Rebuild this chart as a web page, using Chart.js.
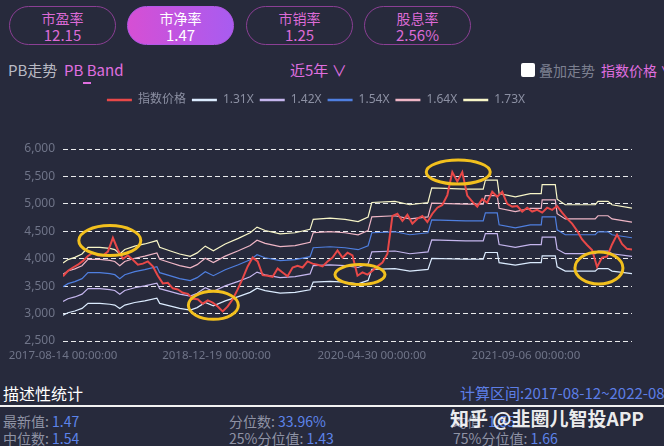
<!DOCTYPE html>
<html>
<head>
<meta charset="utf-8">
<script src="https://cdn.jsdelivr.net/npm/chart.js@4.4.1/dist/chart.umd.min.js"></script>
<style>
  html, body { margin: 0; padding: 0; background: #272a3c; }
  #page { position: relative; width: 664px; height: 446px; overflow: hidden; background: #272a3c;
    font-family: "Noto Sans CJK SC", "Noto Sans", sans-serif; }
  .tab { position: absolute; top: 6px; width: 105px; height: 37px; border: 1px solid #8b3f94;
    border-radius: 20px; color: #dc6ad6; text-align: center; }
  .tab .t { font-size: 14px; line-height: 16px; margin-top: 3px; }
  .tab .v { font-size: 15px; line-height: 17px; }
  .tab.on { background: linear-gradient(90deg, #d64fd4, #a85cf0); border-color: #b358e6; color: #fff; }
  .txt { position: absolute; white-space: nowrap; line-height: 1; }
  #chartBox { position: absolute; left: 0; top: 88px; width: 664px; height: 275px; }
  .lab { color: #8f93a5; }
  .val { color: #5d84ea; }
</style>
</head>
<body>
<div id="page">
  <div class="tab" style="left:9px"><div class="t">市盈率</div><div class="v">12.15</div></div>
  <div class="tab on" style="left:127px"><div class="t">市净率</div><div class="v">1.47</div></div>
  <div class="tab" style="left:246px"><div class="t">市销率</div><div class="v">1.25</div></div>
  <div class="tab" style="left:364px"><div class="t">股息率</div><div class="v">2.56%</div></div>

  <div class="txt" style="left:8px;top:62px;font-size:15px;color:#b9bac4">PB走势</div>
  <div class="txt" style="left:64px;top:62px;font-size:15px;color:#e06fe0">PB Band</div>
  <div style="position:absolute;left:83px;top:82px;width:8px;height:2px;background:#e06fe0"></div>
  <div class="txt" style="left:290px;top:62px;font-size:15px;color:#e06fe0">近5年 ∨</div>
  <div style="position:absolute;left:521px;top:63px;width:14px;height:14px;background:#fff;border-radius:2px"></div>
  <div class="txt" style="left:539px;top:63px;font-size:14px;color:#7d8091">叠加走势</div>
  <div class="txt" style="left:601px;top:63px;font-size:14px;color:#e06fe0">指数价格 ∨</div>

  <div id="chartBox"><canvas id="pb-band"></canvas></div>

  <div class="txt" style="left:3px;top:385px;font-size:16px;color:#fff">描述性统计</div>
  <div class="txt" style="left:460px;top:385px;font-size:15px;color:#5d7ee6">计算区间:2017-08-12~2022-08-12</div>
  <div style="position:absolute;left:0;top:405px;width:664px;height:2px;background:#f2f2f2"></div>

  <div class="txt" style="left:3px;top:414px;font-size:14px"><span class="lab">最新值: </span><span class="val">1.47</span></div>
  <div class="txt" style="left:229px;top:414px;font-size:14px"><span class="lab">分位数: </span><span class="val">33.96%</span></div>
  <div class="txt" style="left:453px;top:414px;font-size:14px"><span class="lab">均值: </span><span class="val">1.55</span></div>
  <div class="txt" style="left:3px;top:431px;font-size:14px"><span class="lab">中位数: </span><span class="val">1.54</span></div>
  <div class="txt" style="left:229px;top:431px;font-size:14px"><span class="lab">25%分位值: </span><span class="val">1.43</span></div>
  <div class="txt" style="left:453px;top:431px;font-size:14px"><span class="lab">75%分位值: </span><span class="val">1.66</span></div>
  <div class="txt" style="left:450px;top:408px;font-size:19px;font-weight:bold;color:rgba(255,255,255,0.92)">知乎 @韭圈儿智投APP</div>
</div>

<script>
// x axis is in days from the first date
const START_DATE = '2017-08-14';
const xTickLabels = ['2017-08-14 00:00:00', '2018-12-19 00:00:00', '2020-04-30 00:00:00', '2021-09-06 00:00:00'];
const lastDay = 1824;              // 2022-08-12
const priceStep = 16;              // one price reading every 16 days

const seriesNames = ['指数价格', '1.31X', '1.42X', '1.54X', '1.64X', '1.73X'];

const price = [
  3680, 3780, 3840, 3890, 3960, 4050, 4110, 4060, 4060, 4130,
  4380, 4160, 4000, 4060, 3980, 3890, 3910, 3950, 3860, 3690,
  3550, 3560, 3460, 3440, 3380, 3360, 3270, 3260, 3180, 3240,
  3200, 3130, 3040, 3130, 3260, 3440, 3640, 3860, 4020, 3950,
  3700, 3690, 3670, 3820, 3750, 3680, 3840, 3870, 3840, 3950,
  3910, 3890, 3860, 3950, 4020, 4150, 4020, 4110, 4060, 3690,
  3750, 3710, 3780, 3860, 3930, 4090, 4780, 4820, 4690, 4800,
  4640, 4730, 4780, 4670, 4820, 4930, 4980, 5160, 5580, 5410,
  5580, 5150, 5040, 4950, 5090, 5020, 5220, 5130, 5220, 5000,
  4950, 4960, 4860, 4930, 4860, 4890, 4840, 4930, 4890, 4960,
  4840, 4730, 4640, 4510, 4350, 4250, 4160, 3850, 4020, 4040,
  4260, 4440, 4270, 4180, 4170
];

// band values at the days where they change course
const bandDays = [
  0, 16, 38, 61, 80, 118, 150, 166, 182, 198,
  230, 262, 301, 310, 342, 374, 408, 430, 456, 482,
  520, 562, 600, 622, 648, 696, 744, 792, 802, 856,
  904, 946, 978, 990, 1064, 1112, 1170, 1182, 1290, 1347,
  1354, 1392, 1398, 1450, 1498, 1533, 1536, 1578, 1584, 1610,
  1706, 1715, 1747, 1760, 1824
];
const band131 = [
  2970, 3016, 3047, 3094, 3186, 3186, 3170, 3155, 3094, 3155,
  3202, 3232, 3279, 3186, 3140, 3094, 3062, 3109, 3202, 3140,
  3232, 3310, 3387, 3464, 3418, 3372, 3387, 3434, 3573, 3588,
  3573, 3542, 3604, 3805, 3820, 3774, 3805, 4006, 3990, 3990,
  4113, 4113, 3928, 3882, 3928, 3928, 4052, 4052, 3851, 3774,
  3774, 3820, 3820, 3774, 3727
];
const band142 = [
  3219, 3270, 3303, 3354, 3454, 3454, 3437, 3420, 3354, 3420,
  3471, 3504, 3555, 3454, 3404, 3354, 3320, 3370, 3471, 3404,
  3504, 3588, 3672, 3756, 3705, 3655, 3672, 3723, 3873, 3889,
  3873, 3840, 3907, 4125, 4141, 4091, 4125, 4342, 4326, 4326,
  4459, 4459, 4258, 4208, 4258, 4258, 4393, 4393, 4174, 4091,
  4091, 4141, 4141, 4091, 4041
];
const band154 = [
  3491, 3546, 3582, 3637, 3746, 3746, 3727, 3709, 3637, 3709,
  3764, 3800, 3855, 3746, 3691, 3637, 3600, 3655, 3764, 3691,
  3800, 3891, 3982, 4073, 4018, 3964, 3982, 4037, 4200, 4218,
  4200, 4164, 4237, 4473, 4491, 4437, 4473, 4709, 4691, 4691,
  4836, 4836, 4618, 4564, 4618, 4618, 4764, 4764, 4527, 4437,
  4437, 4491, 4491, 4437, 4382
];
const band164 = [
  3718, 3776, 3814, 3873, 3989, 3989, 3969, 3950, 3873, 3950,
  4008, 4047, 4105, 3989, 3931, 3873, 3834, 3892, 4008, 3931,
  4047, 4144, 4240, 4337, 4279, 4221, 4240, 4299, 4473, 4492,
  4473, 4434, 4512, 4763, 4783, 4725, 4763, 5015, 4995, 4995,
  5150, 5150, 4918, 4860, 4918, 4918, 5073, 5073, 4821, 4725,
  4725, 4783, 4783, 4725, 4666
];
const band173 = [
  3922, 3984, 4024, 4086, 4208, 4208, 4187, 4167, 4086, 4167,
  4229, 4269, 4331, 4208, 4146, 4086, 4044, 4106, 4229, 4146,
  4269, 4371, 4473, 4576, 4514, 4453, 4473, 4535, 4718, 4739,
  4718, 4678, 4760, 5025, 5045, 4984, 5025, 5290, 5270, 5270,
  5433, 5433, 5188, 5127, 5188, 5188, 5352, 5352, 5086, 4984,
  4984, 5045, 5045, 4984, 4923
];

// hand drawn highlight rings: [day, value]
const rings = [[150, 4330], [482, 3150], [952, 3710], [1267, 5580], [1718, 3830]];
const ringSize = [[31, 15], [25, 14], [25, 10], [32, 12], [24, 16]];

const COLORS = ['#e84848', '#dcecff', '#c5b6ee', '#4f7fe0', '#efb6c6', '#f8f6c8'];

function dayOf(label) {
  return Math.round((Date.parse(label.slice(0, 10)) - Date.parse(START_DATE)) / 86400000);
}

function bandData(vals) {
  return vals.map((v, i) => ({ x: bandDays[i], y: v }));
}

const legendHeight = {
  id: 'legendHeight',
  beforeInit(chart) {
    const fit = chart.legend.fit;
    chart.legend.fit = function () { fit.bind(chart.legend)(); this.height = 61; };
  }
};

const ringPlugin = {
  id: 'rings',
  afterDatasetsDraw(chart) {
    const ctx = chart.ctx, xs = chart.scales.x, ys = chart.scales.y;
    ctx.save();
    ctx.strokeStyle = '#f2c01e';
    ctx.lineWidth = 3;
    rings.forEach((r, i) => {
      ctx.beginPath();
      ctx.ellipse(xs.getPixelForValue(r[0]), ys.getPixelForValue(r[1]), ringSize[i][0], ringSize[i][1], 0, 0, Math.PI * 2);
      ctx.stroke();
    });
    ctx.restore();
  }
};

const bands = [band131, band142, band154, band164, band173];
const datasets = [{
  label: seriesNames[0],
  data: price.map((v, i) => ({ x: i * priceStep, y: v })),
  borderColor: COLORS[0],
  backgroundColor: COLORS[0],
  borderWidth: 2
}];
bands.forEach((b, k) => {
  datasets.push({
    label: seriesNames[k + 1],
    data: bandData(b),
    borderColor: COLORS[k + 1],
    backgroundColor: COLORS[k + 1],
    borderWidth: 1.2
  });
});

new Chart(document.getElementById('pb-band'), {
  type: 'line',
  data: { datasets: datasets },
  plugins: [legendHeight, ringPlugin],
  options: {
    responsive: true,
    maintainAspectRatio: false,
    animation: false,
    layout: { padding: { left: 0, right: 32, top: 0, bottom: 0 } },
    elements: { point: { radius: 0 }, line: { tension: 0 } },
    plugins: {
      tooltip: { enabled: false },
      legend: {
        position: 'top',
        labels: {
          usePointStyle: true,
          pointStyle: 'line',
          pointStyleWidth: 25,
          padding: 6,
          color: '#8c90a3',
          font: { family: '"Noto Sans", "Noto Sans CJK SC", sans-serif', size: 12 },
          generateLabels(chart) {
            const items = Chart.defaults.plugins.legend.labels.generateLabels(chart);
            items.forEach(it => { it.lineWidth = 2.5; });
            return items;
          }
        }
      }
    },
    scales: {
      x: {
        type: 'linear',
        min: 0,
        max: lastDay,
        grid: { display: false, drawTicks: false },
        border: { display: false },
        afterBuildTicks(scale) { scale.ticks = xTickLabels.map(l => ({ value: dayOf(l) })); },
        afterFit(scale) { scale.height = 22; },
        ticks: {
          autoSkip: false,
          maxRotation: 0,
          padding: 8,
          color: '#6f7488',
          font: { family: '"Noto Sans", sans-serif', size: 11.5 },
          callback: (v, i) => xTickLabels[i]
        }
      },
      y: {
        min: 2500,
        max: 6000,
        afterFit(scale) { scale.width = 63; },
        grid: { color: 'rgba(255,255,255,0.9)', lineWidth: 1, drawTicks: false },
        border: { display: false, dash: [5, 3] },
        ticks: {
          stepSize: 500,
          padding: 8,
          color: '#6f7488',
          font: { family: '"Noto Sans", sans-serif', size: 12 },
          callback: v => v.toLocaleString('en-US')
        }
      }
    }
  }
});
</script>
</body>
</html>
